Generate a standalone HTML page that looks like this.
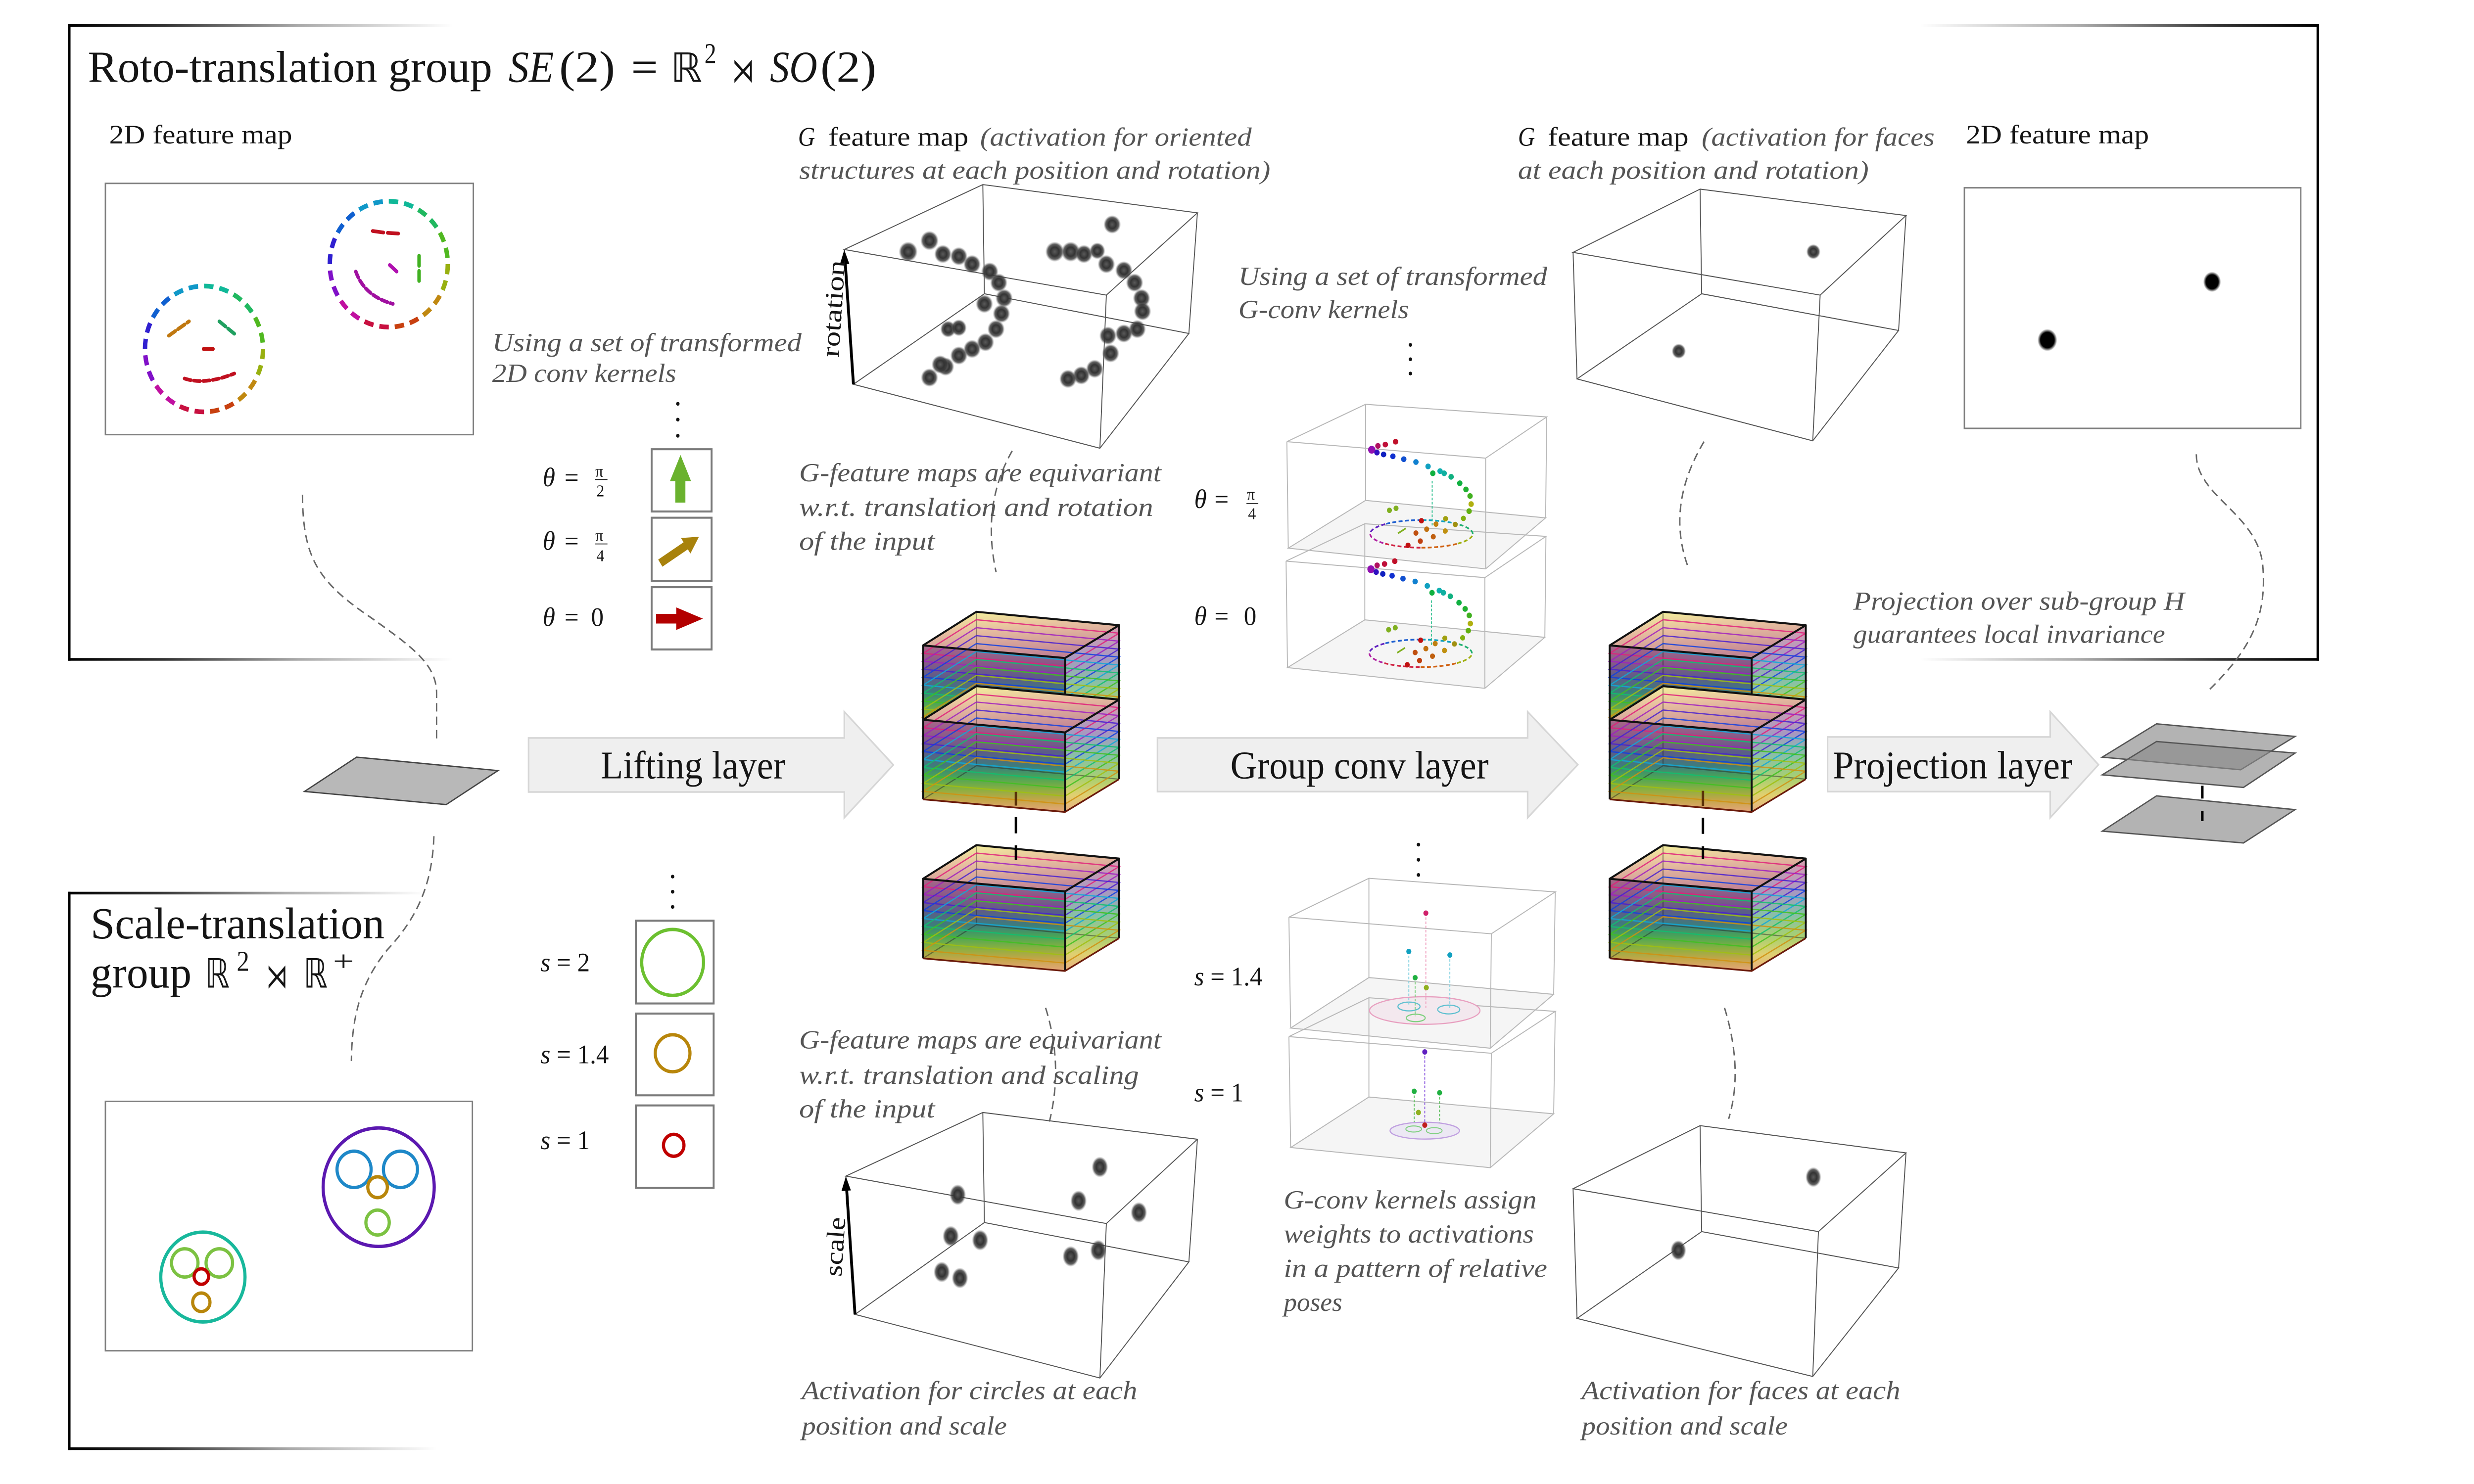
<!DOCTYPE html>
<html><head><meta charset="utf-8">
<style>
html,body{margin:0;padding:0;background:#fff;overflow:hidden;width:100%;height:100%;}
svg{display:block;width:100vw;height:100vh;}
text{font-family:"Liberation Serif","DejaVu Serif",serif;}
.b{fill:#151515;}
.i{font-style:italic;fill:#555;}
.s{font-family:"DejaVu Sans","Liberation Serif",serif;fill:#151515;}
</style></head><body>
<svg viewBox="0 0 1568 882" preserveAspectRatio="none" xmlns="http://www.w3.org/2000/svg" xmlns:xlink="http://www.w3.org/1999/xlink">
<defs>
<linearGradient id="fadeR" x1="0" y1="0" x2="1" y2="0"><stop offset="0" stop-color="#000"/><stop offset="0.25" stop-color="#333"/><stop offset="0.6" stop-color="#aaa"/><stop offset="1" stop-color="#fff"/></linearGradient>
<linearGradient id="fadeL" x1="0" y1="0" x2="1" y2="0"><stop offset="0" stop-color="#fff"/><stop offset="0.4" stop-color="#aaa"/><stop offset="0.75" stop-color="#333"/><stop offset="1" stop-color="#000"/></linearGradient>
<linearGradient id="gF" x1="0" y1="0" x2="0" y2="1"><stop offset="0" stop-color="#a86888"/><stop offset="0.18" stop-color="#8a5a88"/><stop offset="0.35" stop-color="#5c5c88"/><stop offset="0.5" stop-color="#3e7c7c"/><stop offset="0.62" stop-color="#48a458"/><stop offset="0.75" stop-color="#88b040"/><stop offset="0.87" stop-color="#c4a648"/><stop offset="1" stop-color="#e6a67c"/></linearGradient>
<linearGradient id="gR" x1="0" y1="0" x2="0" y2="1"><stop offset="0" stop-color="#d8a0b0"/><stop offset="0.3" stop-color="#a898c0"/><stop offset="0.5" stop-color="#88c0a8"/><stop offset="0.7" stop-color="#a8d070"/><stop offset="0.85" stop-color="#e0d070"/><stop offset="1" stop-color="#eab080"/></linearGradient>
<linearGradient id="gT" x1="0.3" y1="0" x2="0.6" y2="1"><stop offset="0" stop-color="#f2ee9c"/><stop offset="0.35" stop-color="#e8c0a0"/><stop offset="1" stop-color="#c08094"/></linearGradient>
<radialGradient id="bl"><stop offset="0" stop-color="#5a5a5a"/><stop offset="0.45" stop-color="#333"/><stop offset="0.75" stop-color="#3a3a3a" stop-opacity="0.8"/><stop offset="1" stop-color="#777" stop-opacity="0"/></radialGradient>
<radialGradient id="bk"><stop offset="0" stop-color="#000"/><stop offset="0.7" stop-color="#000"/><stop offset="1" stop-color="#000" stop-opacity="0"/></radialGradient>

<g id="cube"><g transform="translate(585,383.6)">
<polygon points="0,0 90,7.5 90,54.8 0,47.3" fill="url(#gF)"/>
<polygon points="90,7.5 124.3,-12 124.3,35.3 90,54.8" fill="url(#gR)"/>
<polygon points="0,0 90,7.5 124.3,-12 33.8,-20" fill="url(#gT)"/>
<path d="M33.8,-20V27.3M0,47.3L33.8,27.3L124.3,35.3" stroke="#222" stroke-opacity=".45" stroke-width=".7" fill="none"/>
<g fill="none" stroke-width=".75" stroke-opacity=".85">
<polygon points="0,4.73 90,12.23 124.3,-7.27 33.8,-15.27" stroke="#e0207a"/>
<polygon points="0,9.46 90,16.96 124.3,-2.54 33.8,-10.54" stroke="#a020c0"/>
<polygon points="0,14.19 90,21.69 124.3,2.19 33.8,-5.81" stroke="#4a20d0"/>
<polygon points="0,18.92 90,26.42 124.3,6.92 33.8,-1.08" stroke="#1040e0"/>
<polygon points="0,23.65 90,31.15 124.3,11.65 33.8,3.65" stroke="#10a8d8"/>
<polygon points="0,28.38 90,35.88 124.3,16.38 33.8,8.38" stroke="#10c070"/>
<polygon points="0,33.11 90,40.61 124.3,21.11 33.8,13.11" stroke="#40c020"/>
<polygon points="0,37.84 90,45.34 124.3,25.84 33.8,17.84" stroke="#a0c010"/>
<polygon points="0,42.57 90,50.07 124.3,30.57 33.8,22.57" stroke="#d09010"/>
</g>
<path d="M0,0L90,7.5L124.3,-12L33.8,-20Z M0,0V47.3 M90,7.5V54.8 M124.3,-12V35.3" stroke="#111" stroke-width="1.2" fill="none" stroke-linejoin="round"/>
<path d="M0,47.3L90,54.8L124.3,35.3" stroke="#6a1a0a" stroke-width="1" fill="none"/>
</g></g>

<g id="ring"><g transform="translate(129.3,207.4)" fill="none" stroke-width="2.8" stroke-dasharray="6 3.8">
<path d="M0,-37.4A37.4,37.4 0 0 1 18.7,-32.39" stroke="#10b898"/>
<path d="M18.7,-32.39A37.4,37.4 0 0 1 32.39,-18.7" stroke="#20b860"/>
<path d="M32.39,-18.7A37.4,37.4 0 0 1 37.4,0" stroke="#50b820"/>
<path d="M37.4,0A37.4,37.4 0 0 1 32.39,18.7" stroke="#98b010"/>
<path d="M32.39,18.7A37.4,37.4 0 0 1 18.7,32.39" stroke="#c08810"/>
<path d="M18.7,32.39A37.4,37.4 0 0 1 0,37.4" stroke="#c84010"/>
<path d="M0,37.4A37.4,37.4 0 0 1 -18.7,32.39" stroke="#c81040"/>
<path d="M-18.7,32.39A37.4,37.4 0 0 1 -32.39,18.7" stroke="#c010a0"/>
<path d="M-32.39,18.7A37.4,37.4 0 0 1 -37.4,0" stroke="#8010c8"/>
<path d="M-37.4,0A37.4,37.4 0 0 1 -32.39,-18.7" stroke="#3020d0"/>
<path d="M-32.39,-18.7A37.4,37.4 0 0 1 -18.7,-32.39" stroke="#1060d0"/>
<path d="M-18.7,-32.39A37.4,37.4 0 0 1 0,-37.4" stroke="#1098c8"/>
</g></g>

<g id="ell"><g transform="translate(900.9,317.3)" fill="none" stroke-width="1" stroke-dasharray="2.5 1.5">
<path d="M32.5,0A32.5,8.2 0 0 0 22.98,-5.8" stroke="#20b070"/>
<path d="M22.98,-5.8A32.5,8.2 0 0 0 0,-8.2" stroke="#10a0c0"/>
<path d="M0,-8.2A32.5,8.2 0 0 0 -22.98,-5.8" stroke="#2060d0"/>
<path d="M-22.98,-5.8A32.5,8.2 0 0 0 -32.5,0" stroke="#6020c0"/>
<path d="M-32.5,0A32.5,8.2 0 0 0 -22.98,5.8" stroke="#b020a0"/>
<path d="M-22.98,5.8A32.5,8.2 0 0 0 0,8.2" stroke="#d02040"/>
<path d="M0,8.2A32.5,8.2 0 0 0 22.98,5.8" stroke="#d06010"/>
<path d="M22.98,5.8A32.5,8.2 0 0 0 32.5,0" stroke="#a0b010"/>
</g></g>

<g id="sp">
<use href="#ell" xlink:href="#ell"/>
<path d="M907.7,285.8V312.8" stroke="#30c090" stroke-width=".6" stroke-dasharray="1.5 1"/>
<circle cx="884.5" cy="262.5" r="1.7" fill="#c0102a"/>
<circle cx="878" cy="264.2" r="1.7" fill="#c0103a"/>
<circle cx="873.3" cy="265" r="1.7" fill="#b01060"/>
<circle cx="869.4" cy="267.3" r="2.3" fill="#9010b0"/>
<circle cx="872.7" cy="269" r="1.7" fill="#3010c0"/>
<circle cx="876.9" cy="270.1" r="1.7" fill="#1020c0"/>
<circle cx="882.8" cy="271.2" r="1.7" fill="#1030d0"/>
<circle cx="889.7" cy="272.9" r="1.7" fill="#1050d0"/>
<circle cx="897.4" cy="274.6" r="1.7" fill="#1080d0"/>
<circle cx="905.1" cy="277.2" r="1.7" fill="#10a0c0"/>
<circle cx="912.7" cy="280" r="1.7" fill="#10b0b0"/>
<circle cx="915.3" cy="281.3" r="1.7" fill="#10b0a0"/>
<circle cx="919.7" cy="283.4" r="1.7" fill="#10b080"/>
<circle cx="908.1" cy="281.3" r="1.7" fill="#10b040"/>
<circle cx="925.2" cy="287.2" r="1.7" fill="#10b040"/>
<circle cx="929.1" cy="290.9" r="1.7" fill="#20b030"/>
<circle cx="931.7" cy="294.8" r="1.7" fill="#40b020"/>
<circle cx="932.4" cy="299.6" r="1.7" fill="#b0b010"/>
<circle cx="931.1" cy="303.8" r="1.7" fill="#60b010"/>
<circle cx="927.5" cy="308.1" r="1.6" fill="#80b010"/>
<circle cx="916.2" cy="308.3" r="1.6" fill="#a0a010"/>
<circle cx="880.6" cy="303.3" r="1.6" fill="#80b020"/>
<circle cx="884.8" cy="302.1" r="1.6" fill="#80b020"/>
<circle cx="900.9" cy="309.5" r="1.6" fill="#c01010"/>
<circle cx="910.1" cy="311.5" r="1.6" fill="#c08010"/>
<circle cx="922.3" cy="311.7" r="1.6" fill="#a09010"/>
<circle cx="904.2" cy="314.5" r="1.6" fill="#c07010"/>
<circle cx="916" cy="315.6" r="1.6" fill="#c09010"/>
<circle cx="897.4" cy="316.8" r="1.6" fill="#c05010"/>
<circle cx="908.4" cy="319" r="1.6" fill="#c06010"/>
<circle cx="900.2" cy="321.6" r="1.6" fill="#c04010"/>
<circle cx="892.4" cy="324.1" r="1.6" fill="#c01010"/>
<path d="M886,317 L891,314" stroke="#80b020" stroke-width="1"/>
</g>
</defs>

<rect x="0" y="0" width="1568" height="882" fill="#fff"/>

<!-- Frames -->
<rect x="43.1" y="14.4" width="1.6" height="378.3" fill="#000"/>
<rect x="43.1" y="14.4" width="244" height="1.6" fill="url(#fadeR)"/>
<rect x="43.1" y="391.1" width="244" height="1.6" fill="url(#fadeR)"/>
<rect x="1468.2" y="14.4" width="1.6" height="378.3" fill="#000"/>
<rect x="1217" y="14.4" width="252.8" height="1.6" fill="url(#fadeL)"/>
<rect x="1217" y="391.1" width="252.8" height="1.6" fill="url(#fadeL)"/>
<rect x="43.1" y="530" width="1.6" height="331.8" fill="#000"/>
<rect x="43.1" y="530" width="227" height="1.6" fill="url(#fadeR)"/>
<rect x="43.1" y="860.2" width="234" height="1.6" fill="url(#fadeR)"/>

<!-- Title -->
<text class="b" x="55.7" y="48.6" font-size="26.5" textLength="256.3" lengthAdjust="spacingAndGlyphs">Roto-translation group</text>
<text class="b" x="322.3" y="48.6" font-size="26.5" font-style="italic" textLength="28.7" lengthAdjust="spacingAndGlyphs">SE</text>
<text class="b" x="354.4" y="48.6" font-size="26.5" textLength="35.4" lengthAdjust="spacingAndGlyphs">(2)</text>
<text class="b" x="400" y="48.6" font-size="26.5" textLength="17" lengthAdjust="spacingAndGlyphs">=</text>
<text class="s" x="425" y="48.6" font-size="24" textLength="20" lengthAdjust="spacingAndGlyphs">ℝ</text>
<text class="b" x="446.5" y="37.5" font-size="17" textLength="7.5" lengthAdjust="spacingAndGlyphs">2</text>
<text class="s" x="464" y="48.6" font-size="20" textLength="14" lengthAdjust="spacingAndGlyphs">⋊</text>
<text class="b" x="488" y="48.6" font-size="26.5" font-style="italic" textLength="30" lengthAdjust="spacingAndGlyphs">SO</text>
<text class="b" x="520" y="48.6" font-size="26.5" textLength="35.4" lengthAdjust="spacingAndGlyphs">(2)</text>

<!-- Top-left 2D feature map -->
<text class="b" x="69.2" y="85.3" font-size="16" textLength="116" lengthAdjust="spacingAndGlyphs">2D feature map</text>
<rect x="66.8" y="109" width="233.2" height="149.3" fill="#fff" stroke="#808080" stroke-width=".9"/>
<use href="#ring" xlink:href="#ring"/>
<use href="#ring" xlink:href="#ring" transform="translate(117.1,-50.4)"/>
<g stroke-width="2.2" stroke-linecap="round" fill="none">
<path d="M107,199.5L119.8,191" stroke="#c07810" stroke-dasharray="5 2"/>
<path d="M139,191L150,199.5" stroke="#20a060" stroke-dasharray="5 2"/>
<path d="M129,207.4L135,207.4" stroke="#c01010"/>
<path d="M117,225Q130,229 148.5,222" stroke="#c01020" stroke-dasharray="4 2"/>
<path d="M236.2,137.3L243,138.2M245.7,138.4L252.4,138.8" stroke="#c01020"/>
<path d="M265.6,152V168" stroke="#40b020" stroke-dasharray="6 3"/>
<path d="M247,157.5L251.4,161.4" stroke="#b010b0"/>
<path d="M225.5,161.4Q231,176 249,180.6" stroke="#a010a0" stroke-dasharray="4 2"/>
</g>

<!-- Using a set of transformed 2D conv kernels -->
<text class="i" x="312" y="208.7" font-size="15.5" textLength="196" lengthAdjust="spacingAndGlyphs">Using a set of transformed</text>
<text class="i" x="312" y="227" font-size="15.5" textLength="116.6" lengthAdjust="spacingAndGlyphs">2D conv kernels</text>
<circle cx="429.6" cy="240" r="1.1" fill="#111"/><circle cx="429.6" cy="249.4" r="1.1" fill="#111"/><circle cx="429.6" cy="259" r="1.1" fill="#111"/>

<g fill="#fff" stroke="#7a7a7a" stroke-width="1.2">
<rect x="413" y="267" width="38" height="37"/>
<rect x="413" y="307.7" width="38" height="37.5"/>
<rect x="413" y="349" width="38" height="37"/>
</g>
<polygon points="428,298.7 428,286 424.6,286 431.3,270.4 438,286 434.4,286 434.4,298.7" fill="#6ab22e"/>
<polygon points="417.15,332.6 433.25,322.3 431.63,319.77 443,319 437.57,329 435.95,326.5 419.85,336.8" fill="#a8820c"/>
<polygon points="415.8,364.9 428.6,364.9 428.6,361 445.5,367.7 428.6,374.4 428.6,370.6 415.8,370.6" fill="#b30000"/>

<text class="b" x="344" y="289" font-size="16" font-style="italic">θ</text>
<text class="b" x="357.8" y="289" font-size="16">=</text>
<text class="b" x="377.3" y="283.2" font-size="10">π</text>
<line x1="377" y1="285" x2="385" y2="285" stroke="#222" stroke-width=".5"/>
<text class="b" x="378" y="295" font-size="10">2</text>
<text class="b" x="344" y="326.8" font-size="16" font-style="italic">θ</text>
<text class="b" x="357.8" y="326.8" font-size="16">=</text>
<text class="b" x="377.3" y="321.5" font-size="10">π</text>
<line x1="377" y1="323.3" x2="385" y2="323.3" stroke="#222" stroke-width=".5"/>
<text class="b" x="378" y="333.5" font-size="10">4</text>
<text class="b" x="344" y="372" font-size="16" font-style="italic">θ</text>
<text class="b" x="357.8" y="372" font-size="16">=</text>
<text class="b" x="374.6" y="372" font-size="16">0</text>

<!-- dashed curves -->
<g fill="none" stroke="#666" stroke-width=".9" stroke-dasharray="5 3">
<path d="M191.7,294C192,330 200,345 235,367C262,385 276.7,395 276.7,412L276.7,440"/>
<path d="M275,497C274,525 265,545 245,565C228,585 223,605 222.7,630.6"/>
<path d="M641.5,268Q622,300 631.3,340"/>
<path d="M662.7,599Q674,633 665.1,666.6"/>
<path d="M1080,262.5Q1056,300 1069.5,336"/>
<path d="M1392,270C1392,295 1430,305 1434,335C1437,365 1428,385 1398.4,411.6"/>
<path d="M1093,599Q1105,636 1095.6,665"/>
</g>

<!-- Input plane -->
<polygon points="193,470.4 226,450 315.6,458 282.8,478.2" fill="#b8b8b8" stroke="#444" stroke-width=".8"/>

<!-- Layer arrows -->
<g fill="#efefef" stroke="#d6d6d6" stroke-width="1">
<polygon points="335,438.6 535.1,438.6 535.1,423 566.2,454.6 535.1,486 535.1,470.7 335,470.7"/>
<polygon points="733.6,438.6 968.2,438.6 968.2,423 1000,454.5 968.2,486 968.2,470.5 733.6,470.5"/>
<polygon points="1158.3,438 1299.4,438 1299.4,423 1330,454.5 1299.4,486 1299.4,470.5 1158.3,470.5"/>
</g>
<text class="b" x="380.7" y="462.6" font-size="23.5" textLength="117.1" lengthAdjust="spacingAndGlyphs">Lifting layer</text>
<text class="b" x="779.8" y="462.6" font-size="23.5" textLength="163.7" lengthAdjust="spacingAndGlyphs">Group conv layer</text>
<text class="b" x="1161.6" y="462.6" font-size="23.5" textLength="151.9" lengthAdjust="spacingAndGlyphs">Projection layer</text>

<!-- Cube stacks -->
<use href="#cube" xlink:href="#cube"/>
<use href="#cube" xlink:href="#cube" transform="translate(0,44.2)"/>
<use href="#cube" xlink:href="#cube" transform="translate(0,138.7)"/>
<use href="#cube" xlink:href="#cube" transform="translate(435.2,0)"/>
<use href="#cube" xlink:href="#cube" transform="translate(435.2,44.2)"/>
<use href="#cube" xlink:href="#cube" transform="translate(435.2,138.7)"/>
<g stroke-width="1.6">
<line x1="643.9" y1="470.6" x2="643.9" y2="478.8" stroke="#5a3008"/>
<line x1="643.9" y1="485.6" x2="643.9" y2="495.3" stroke="#000"/>
<line x1="643.9" y1="502.4" x2="643.9" y2="511" stroke="#000"/>
<line x1="1079.3" y1="470" x2="1079.3" y2="479" stroke="#5a3008"/>
<line x1="1079.3" y1="486" x2="1079.3" y2="495.6" stroke="#000"/>
<line x1="1079.3" y1="503" x2="1079.3" y2="510.6" stroke="#000"/>
</g>

<!-- Projection planes -->
<g fill="#8a8a8a" fill-opacity=".65" stroke="#555" stroke-width=".8">
<polygon points="1332.4,450 1366.8,430.2 1454.6,437.7 1420.1,457.5"/>
<polygon points="1332.4,460.5 1366.8,440.7 1454.6,447.6 1421.9,468"/>
<polygon points="1332.4,494 1366.8,473 1454.6,481.2 1421.9,501"/>
</g>
<line x1="1395.8" y1="467" x2="1395.8" y2="474.6" stroke="#000" stroke-width="1.6"/>
<line x1="1395.8" y1="482" x2="1395.8" y2="488" stroke="#000" stroke-width="1.6"/>

<!-- G feature map (top-middle) -->
<text class="b" x="505.8" y="86.6" font-size="16" font-style="italic" textLength="10.8" lengthAdjust="spacingAndGlyphs">G</text>
<text class="b" x="525" y="86.6" font-size="16" textLength="88.8" lengthAdjust="spacingAndGlyphs">feature map</text>
<text class="i" x="621.2" y="86.6" font-size="15.5" textLength="172.1" lengthAdjust="spacingAndGlyphs">(activation for oriented</text>
<text class="i" x="506.5" y="106.3" font-size="15.5" textLength="298.6" lengthAdjust="spacingAndGlyphs">structures at each position and rotation)</text>
<path d="M535.1,148.3L701.2,175.4L758.9,126.5L622.9,109.7Z M540.9,228.4L697.1,266.4L753.5,198.2L623.9,174.6Z M535.1,148.3L540.9,228.4 M701.2,175.4L697.1,266.4 M758.9,126.5L753.5,198.2 M622.9,109.7L623.9,174.6" fill="none" stroke="#555" stroke-width=".6"/>
<line x1="540.9" y1="228.4" x2="535.7" y2="156" stroke="#000" stroke-width="1.8"/>
<polygon points="535.1,148.5 532.3,157.2 538.3,156.8" fill="#000"/>
<text class="b" transform="translate(531.5,212.6) rotate(-86)" font-size="16" textLength="57.7" lengthAdjust="spacingAndGlyphs">rotation</text>
<g fill="url(#bl)">
<circle cx="575.6" cy="149.6" r="6"/><circle cx="589.1" cy="143" r="5.8"/><circle cx="597.6" cy="151" r="5.5"/><circle cx="607.7" cy="152.3" r="5.5"/><circle cx="616.1" cy="157" r="5.5"/><circle cx="627.3" cy="161.4" r="5.5"/><circle cx="633" cy="168" r="5.5"/><circle cx="636.4" cy="177.2" r="5.5"/><circle cx="623.9" cy="180.6" r="5.5"/><circle cx="634.7" cy="186.4" r="5.5"/><circle cx="631.3" cy="195.6" r="5.5"/><circle cx="624.6" cy="203.4" r="5.5"/><circle cx="616.1" cy="207.4" r="5.5"/><circle cx="607.7" cy="211.3" r="5.5"/><circle cx="599.3" cy="217.9" r="5.5"/><circle cx="589.1" cy="224.4" r="5.5"/><circle cx="600.9" cy="195.6" r="5"/><circle cx="607.7" cy="194.8" r="5"/><circle cx="595.9" cy="216.6" r="5.5"/>
<circle cx="668.5" cy="149.6" r="6"/><circle cx="678.6" cy="149.6" r="6"/><circle cx="687" cy="151" r="5.5"/><circle cx="695.5" cy="149.1" r="5"/><circle cx="704.9" cy="133.4" r="5.5"/><circle cx="701.2" cy="157" r="5.5"/><circle cx="712.3" cy="160.7" r="5.5"/><circle cx="719.1" cy="168" r="5.5"/><circle cx="723.5" cy="177.2" r="5.5"/><circle cx="724.1" cy="185" r="5.5"/><circle cx="720.8" cy="195.6" r="5.5"/><circle cx="712.3" cy="198.2" r="5.5"/><circle cx="702.2" cy="199.5" r="5.5"/><circle cx="703.9" cy="210" r="5.5"/><circle cx="693.8" cy="219.2" r="5.5"/><circle cx="685.3" cy="223.1" r="5.5"/><circle cx="676.9" cy="225.2" r="5.5"/>
</g>
<text class="i" x="506.5" y="286.1" font-size="15.5" textLength="229.5" lengthAdjust="spacingAndGlyphs">G-feature maps are equivariant</text>
<text class="i" x="506.5" y="306.6" font-size="15.5" textLength="224.4" lengthAdjust="spacingAndGlyphs">w.r.t. translation and rotation</text>
<text class="i" x="506.5" y="326.8" font-size="15.5" textLength="86" lengthAdjust="spacingAndGlyphs">of the input</text>

<!-- G-conv kernels (rotation) -->
<text class="i" x="784.9" y="169.3" font-size="15.5" textLength="195.7" lengthAdjust="spacingAndGlyphs">Using a set of transformed</text>
<text class="i" x="784.9" y="189" font-size="15.5" textLength="108" lengthAdjust="spacingAndGlyphs">G-conv kernels</text>
<circle cx="893.9" cy="205" r="1.1" fill="#111"/><circle cx="893.9" cy="213.5" r="1.1" fill="#111"/><circle cx="893.9" cy="222" r="1.1" fill="#111"/>
<g fill="none" stroke="#b8b8b8" stroke-width=".6">
<polygon points="816.5,325.8 941.6,338.1 979.6,307.8 865.5,297.4" fill="#f2f2f2" fill-opacity=".8"/>
<path d="M815.6,262.5L941.6,272.3L980.3,247.8L865.5,240.3Z M815.6,262.5L816.5,325.8 M941.6,272.3L941.6,338.1 M980.3,247.8L979.6,307.8 M865.5,240.3L865.5,297.4"/>
<g transform="translate(-0.5,71)">
<polygon points="816.5,325.8 941.6,338.1 979.6,307.8 865.5,297.4" fill="#f2f2f2" fill-opacity=".8"/>
<path d="M815.6,262.5L941.6,272.3L980.3,247.8L865.5,240.3Z M815.6,262.5L816.5,325.8 M941.6,272.3L941.6,338.1 M980.3,247.8L979.6,307.8 M865.5,240.3L865.5,297.4"/>
</g>
</g>
<use href="#sp" xlink:href="#sp"/>
<use href="#sp" xlink:href="#sp" transform="translate(-0.5,71)"/>
<text class="b" x="756.9" y="301.9" font-size="16" font-style="italic">θ</text>
<text class="b" x="769.7" y="301.9" font-size="16">=</text>
<text class="b" x="790.3" y="297" font-size="10">π</text>
<line x1="790" y1="299.3" x2="797.5" y2="299.3" stroke="#222" stroke-width=".5"/>
<text class="b" x="791" y="308.6" font-size="10">4</text>
<text class="b" x="756.9" y="371.4" font-size="16" font-style="italic">θ</text>
<text class="b" x="769.7" y="371.4" font-size="16">=</text>
<text class="b" x="788.3" y="371.4" font-size="16">0</text>

<!-- G feature map (top-right) -->
<text class="b" x="962.1" y="86.6" font-size="16" font-style="italic" textLength="10.8" lengthAdjust="spacingAndGlyphs">G</text>
<text class="b" x="981" y="86.6" font-size="16" textLength="89.2" lengthAdjust="spacingAndGlyphs">feature map</text>
<text class="i" x="1078.5" y="86.6" font-size="15.5" textLength="147.6" lengthAdjust="spacingAndGlyphs">(activation for faces</text>
<text class="i" x="962.1" y="106.3" font-size="15.5" textLength="222.3" lengthAdjust="spacingAndGlyphs">at each position and rotation)</text>
<path d="M997,150L1153.6,175.4L1208,128.1L1077.5,112.4Z M999.5,225.2L1148.9,262L1203.3,196.4L1078.5,174.6Z M997,150L999.5,225.2 M1153.6,175.4L1148.9,262 M1208,128.1L1203.3,196.4 M1077.5,112.4L1078.5,174.6" fill="none" stroke="#555" stroke-width=".6"/>
<circle cx="1149.3" cy="149.6" r="4.5" fill="url(#bl)"/>
<circle cx="1064" cy="208.7" r="4.5" fill="url(#bl)"/>

<!-- 2D feature map (right) -->
<text class="b" x="1246" y="85.3" font-size="16" textLength="116" lengthAdjust="spacingAndGlyphs">2D feature map</text>
<rect x="1245" y="111.6" width="213.2" height="143" fill="#fff" stroke="#808080" stroke-width=".9"/>
<ellipse cx="1402" cy="167.5" rx="5.6" ry="6" fill="url(#bk)"/>
<ellipse cx="1297.6" cy="202.1" rx="6.2" ry="6.6" fill="url(#bk)"/>

<text class="i" x="1174.6" y="362.3" font-size="15.5" textLength="210" lengthAdjust="spacingAndGlyphs">Projection over sub-group H</text>
<text class="i" x="1174.6" y="382" font-size="15.5" textLength="197.6" lengthAdjust="spacingAndGlyphs">guarantees local invariance</text>

<!-- Bottom-left scale-translation -->
<text class="b" x="57.4" y="557.7" font-size="26.5" textLength="186.3" lengthAdjust="spacingAndGlyphs">Scale-translation</text>
<text class="b" x="57.4" y="587" font-size="26.5" textLength="64" lengthAdjust="spacingAndGlyphs">group</text>
<text class="s" x="130" y="587" font-size="24" textLength="15.5" lengthAdjust="spacingAndGlyphs">ℝ</text>
<text class="b" x="150" y="577" font-size="17" textLength="8" lengthAdjust="spacingAndGlyphs">2</text>
<text class="s" x="168.8" y="587" font-size="20" textLength="13.5" lengthAdjust="spacingAndGlyphs">⋊</text>
<text class="s" x="192.4" y="587" font-size="24" textLength="15.2" lengthAdjust="spacingAndGlyphs">ℝ</text>
<text class="b" x="211" y="577" font-size="17" textLength="13.4" lengthAdjust="spacingAndGlyphs">+</text>

<rect x="66.8" y="654.6" width="232.6" height="148.2" fill="#fff" stroke="#808080" stroke-width=".9"/>
<g fill="none" stroke-width="2">
<circle cx="128.6" cy="759" r="26.7" stroke="#18b89c"/>
<circle cx="117.1" cy="750.6" r="8.4" stroke="#7cc242"/>
<circle cx="139" cy="750.6" r="8.4" stroke="#7cc242"/>
<circle cx="127.6" cy="758.7" r="4.6" stroke="#c00000"/>
<circle cx="127.6" cy="774" r="5.5" stroke="#b8860b"/>
<circle cx="240" cy="705.6" r="35.2" stroke="#5b18b0"/>
<circle cx="224.4" cy="695" r="10.8" stroke="#1e88c8"/>
<circle cx="253.8" cy="695" r="10.8" stroke="#1e88c8"/>
<circle cx="239.3" cy="705.6" r="6.2" stroke="#b8860b"/>
<circle cx="239.3" cy="726.6" r="7.4" stroke="#7cc242"/>
</g>

<circle cx="426.3" cy="521" r="1.1" fill="#111"/><circle cx="426.3" cy="530" r="1.1" fill="#111"/><circle cx="426.3" cy="539" r="1.1" fill="#111"/>
<g fill="#fff" stroke="#7a7a7a" stroke-width="1.2">
<rect x="403" y="547.2" width="49.3" height="49.2"/>
<rect x="403" y="602.4" width="49.3" height="48.6"/>
<rect x="403" y="657" width="49.3" height="49"/>
</g>
<circle cx="426.3" cy="572" r="19.6" fill="none" stroke="#6cc030" stroke-width="2"/>
<circle cx="426.3" cy="626" r="11" fill="none" stroke="#b8860b" stroke-width="2"/>
<circle cx="427" cy="680.7" r="6.5" fill="none" stroke="#c00000" stroke-width="2"/>
<text class="b" x="342.6" y="577.2" font-size="16"><tspan font-style="italic">s</tspan> = 2</text>
<text class="b" x="342.6" y="632" font-size="16"><tspan font-style="italic">s</tspan> = 1.4</text>
<text class="b" x="342.6" y="683" font-size="16"><tspan font-style="italic">s</tspan> = 1</text>

<!-- bottom-middle G feature map (scale) -->
<text class="i" x="506.5" y="623.1" font-size="15.5" textLength="229.5" lengthAdjust="spacingAndGlyphs">G-feature maps are equivariant</text>
<text class="i" x="506.5" y="644.1" font-size="15.5" textLength="215.3" lengthAdjust="spacingAndGlyphs">w.r.t. translation and scaling</text>
<text class="i" x="506.5" y="664.2" font-size="15.5" textLength="86" lengthAdjust="spacingAndGlyphs">of the input</text>
<path d="M536.1,699L701.2,727.2L758.9,677.1L622.9,661.2Z M541.9,781.2L697.1,819L753.5,750L623.9,726.6Z M536.1,699L541.9,781.2 M701.2,727.2L697.1,819 M758.9,677.1L753.5,750 M622.9,661.2L623.9,726.6" fill="none" stroke="#555" stroke-width=".6"/>
<line x1="541.9" y1="781.2" x2="536.6" y2="707" stroke="#000" stroke-width="1.8"/>
<polygon points="536.1,699.2 533.3,707.9 539.3,707.5" fill="#000"/>
<text class="b" transform="translate(533.3,759) rotate(-86)" font-size="16" textLength="35.4" lengthAdjust="spacingAndGlyphs">scale</text>
<g fill="url(#bl)">
<ellipse cx="697.1" cy="693.6" rx="5.2" ry="6.2"/><ellipse cx="683.6" cy="713.7" rx="5.2" ry="6.2"/><ellipse cx="721.8" cy="720.6" rx="5.2" ry="6.2"/><ellipse cx="607" cy="710.1" rx="5.2" ry="6.2"/><ellipse cx="602.6" cy="734.7" rx="5.2" ry="6.2"/><ellipse cx="621.2" cy="737.1" rx="5.2" ry="6.2"/><ellipse cx="596.9" cy="756" rx="5.2" ry="6.2"/><ellipse cx="608.4" cy="759.6" rx="5.2" ry="6.2"/><ellipse cx="678.6" cy="746.7" rx="5.2" ry="6.2"/><ellipse cx="696.1" cy="743.1" rx="5.2" ry="6.2"/>
</g>
<text class="i" x="508.1" y="831.6" font-size="15.5" textLength="212.7" lengthAdjust="spacingAndGlyphs">Activation for circles at each</text>
<text class="i" x="508.1" y="852.6" font-size="15.5" textLength="130" lengthAdjust="spacingAndGlyphs">position and scale</text>

<!-- G-conv kernels (scale) -->
<circle cx="899" cy="502" r="1.1" fill="#111"/><circle cx="899" cy="511" r="1.1" fill="#111"/><circle cx="899" cy="520" r="1.1" fill="#111"/>
<g fill="none" stroke="#b8b8b8" stroke-width=".6">
<polygon points="818,611 944.5,623 984.7,591 867.6,581" fill="#f2f2f2" fill-opacity=".8"/>
<path d="M816.9,545.1L945.2,555L985.7,530.1L867.6,522Z M816.9,545.1L818,611 M945.2,555L944.5,623 M985.7,530.1L984.7,591 M867.6,522L867.6,581"/>
<g transform="translate(0,71)">
<polygon points="818,611 944.5,623 984.7,591 867.6,581" fill="#f2f2f2" fill-opacity=".8"/>
<path d="M816.9,545.1L945.2,555L985.7,530.1L867.6,522Z M816.9,545.1L818,611 M945.2,555L944.5,623 M985.7,530.1L984.7,591 M867.6,522L867.6,581"/>
</g>
</g>
<ellipse cx="903" cy="600.6" rx="35" ry="8.2" fill="#f3e8ee" stroke="#e8a0c0" stroke-width=".7"/>
<ellipse cx="893" cy="598.2" rx="7" ry="2.6" fill="none" stroke="#60c0d0" stroke-width=".7"/>
<ellipse cx="918.2" cy="600" rx="7" ry="2.6" fill="none" stroke="#60c0d0" stroke-width=".7"/>
<ellipse cx="897.3" cy="605" rx="6" ry="2.2" fill="none" stroke="#80d080" stroke-width=".7"/>
<g stroke-width=".6" stroke-dasharray="1.5 1">
<path d="M903.7,542.7V599" stroke="#f0a0c0"/>
<path d="M892.9,565.5V598" stroke="#80d0e0"/>
<path d="M918.9,567.6V600" stroke="#80d0e0"/>
<path d="M896.9,581.1V604" stroke="#80d080"/>
<path d="M903,625.2V669.6" stroke="#9060e0"/>
<path d="M896.3,648.6V670" stroke="#60c060"/>
<path d="M912.4,649.5V671" stroke="#60c060"/>
</g>
<circle cx="903.7" cy="542.7" r="1.6" fill="#d0206a"/>
<circle cx="892.9" cy="565.5" r="1.6" fill="#10a0c0"/>
<circle cx="918.9" cy="567.6" r="1.6" fill="#10a0c0"/>
<circle cx="896.9" cy="581.1" r="1.6" fill="#20b040"/>
<circle cx="904" cy="587" r="1.6" fill="#90b020"/>
<ellipse cx="903" cy="672" rx="22" ry="5" fill="#ece8f4" stroke="#c0a0e0" stroke-width=".7"/>
<ellipse cx="896" cy="671" rx="5" ry="1.8" fill="none" stroke="#80d080" stroke-width=".6"/>
<ellipse cx="909" cy="672" rx="5" ry="1.8" fill="none" stroke="#80d080" stroke-width=".6"/>
<circle cx="903" cy="625.2" r="1.6" fill="#6020c0"/>
<circle cx="896.3" cy="648.6" r="1.6" fill="#20b040"/>
<circle cx="912.4" cy="649.5" r="1.6" fill="#20b040"/>
<circle cx="899" cy="661.2" r="1.6" fill="#90b020"/>
<circle cx="903" cy="668.7" r="1.6" fill="#c02020"/>
<text class="b" x="756.9" y="585.6" font-size="16"><tspan font-style="italic">s</tspan> = 1.4</text>
<text class="b" x="756.9" y="654.6" font-size="16"><tspan font-style="italic">s</tspan> = 1</text>
<text class="i" x="813.6" y="718.2" font-size="15.5" textLength="160.3" lengthAdjust="spacingAndGlyphs">G-conv kernels assign</text>
<text class="i" x="813.6" y="738.6" font-size="15.5" textLength="158.6" lengthAdjust="spacingAndGlyphs">weights to activations</text>
<text class="i" x="813.6" y="759" font-size="15.5" textLength="167" lengthAdjust="spacingAndGlyphs">in a pattern of relative</text>
<text class="i" x="813.6" y="779.1" font-size="15.5" textLength="37.1" lengthAdjust="spacingAndGlyphs">poses</text>

<!-- bottom-right G feature map -->
<path d="M997,706.5L1152.5,732L1208,685.2L1077.5,669Z M999.5,783.6L1148.9,818.1L1203.3,753.6L1078.5,732Z M997,706.5L999.5,783.6 M1152.5,732L1148.9,818.1 M1208,685.2L1203.3,753.6 M1077.5,669L1078.5,732" fill="none" stroke="#555" stroke-width=".6"/>
<ellipse cx="1149.3" cy="699.6" rx="5" ry="6" fill="url(#bl)"/>
<ellipse cx="1063.7" cy="743.1" rx="5" ry="6" fill="url(#bl)"/>
<text class="i" x="1002.4" y="831.6" font-size="15.5" textLength="202" lengthAdjust="spacingAndGlyphs">Activation for faces at each</text>
<text class="i" x="1002.4" y="852.6" font-size="15.5" textLength="130.6" lengthAdjust="spacingAndGlyphs">position and scale</text>
</svg>
</body></html>
